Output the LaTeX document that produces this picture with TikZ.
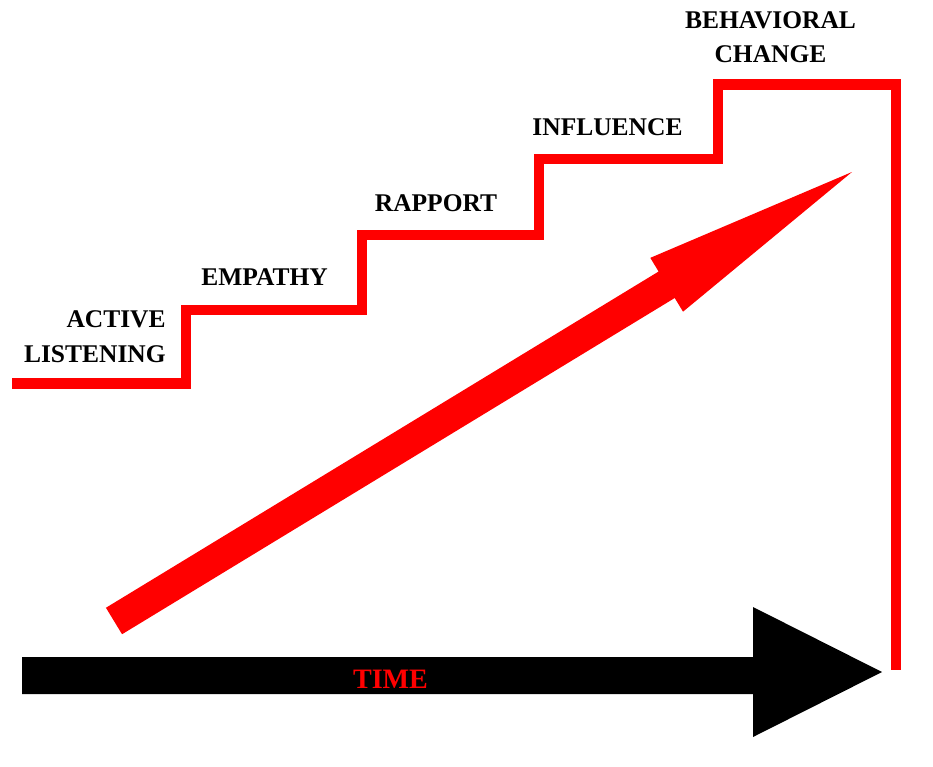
\documentclass[tikz,border=0pt]{standalone}
\usepackage{fontspec}
\setmainfont{Liberation Serif}
\usetikzlibrary{calc}

\definecolor{stairred}{RGB}{255,0,0}

\begin{document}
\begin{tikzpicture}[x=0.02cm,y=-0.02cm,stair/.style={draw=stairred,line width=0.21cm,miter limit=10},stage/.style={anchor=base,inner sep=0pt,align=center,font=\fontsize{14.5}{19.6}\selectfont\bfseries}]
\useasboundingbox (0,0) rectangle (933,767);
% the steps
\draw[stair] (12,383.5) -- (186,383.5) -- (186,310) -- (362,310) -- (362,235) -- (539,235) -- (539,159) -- (718,159) -- (718,84.5) -- (896,84.5) -- (896,670);
\node[stage,anchor=base east,align=right] (listen) at (166,362) {ACTIVE\\LISTENING};
\node[stage] (empathy) at (264.5,285) {EMPATHY};
\node[stage] (rapport) at (436,211) {RAPPORT};
\node[stage] (influence) at (607.5,135) {INFLUENCE};
\node[stage] (change) at (770.5,63) {BEHAVIORAL\\CHANGE};
% rising arrow
\coordinate (rtail) at (114,621);
\coordinate (rtip) at (852,172);
\coordinate (rneck) at ($(rtip)!4.34cm!(rtail)$);
\fill[stairred] ($(rtail)!0.31cm!90:(rtip)$) -- ($(rneck)!0.31cm!90:(rtip)$) -- ($(rneck)!0.63cm!90:(rtip)$) -- (rtip) -- ($(rneck)!0.63cm!-90:(rtip)$) -- ($(rneck)!0.31cm!-90:(rtip)$) -- ($(rtail)!0.31cm!-90:(rtip)$) -- cycle;
% time axis
\fill[black] (22,657) -- (753,657) -- (753,607) -- (882,672) -- (753,737) -- (753,694) -- (22,694) -- cycle;
\node[anchor=base,inner sep=0pt,text=stairred,font=\fontsize{16}{19}\selectfont\bfseries] (time) at (390.5,688) {TIME};
\end{tikzpicture}
\end{document}
